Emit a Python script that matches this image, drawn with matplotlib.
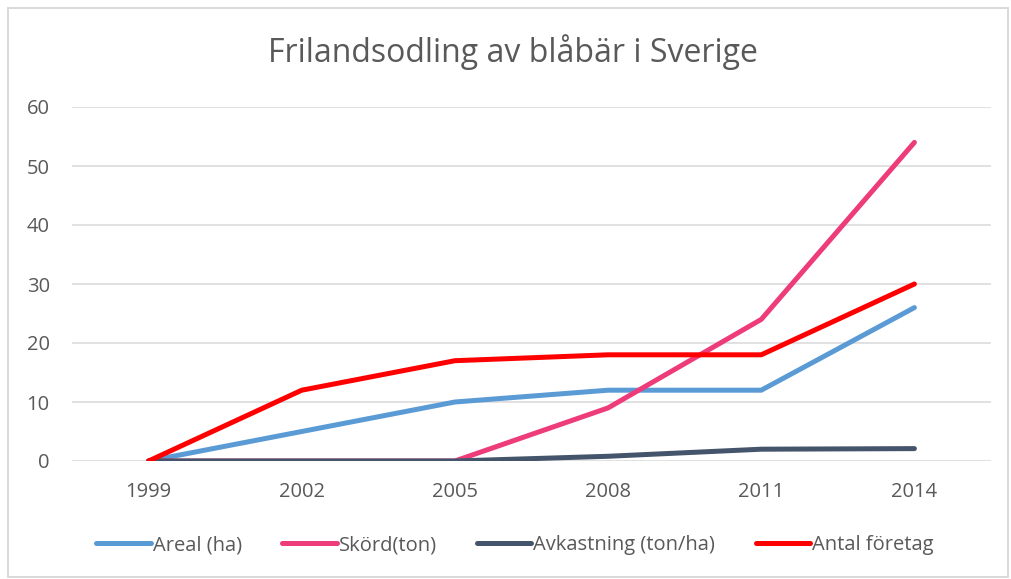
import matplotlib
matplotlib.use("Agg")
import matplotlib.pyplot as plt
import matplotlib.patches as mpatches

# Data
years = ["1999", "2002", "2005", "2008", "2011", "2014"]
areal = [0, 5, 10, 12, 12, 26]
skord = [0, 0, 0, 9, 24, 54]
avkastning = [0, 0, 0, 0.8, 2.0, 2.1]
antal_foretag = [0, 12, 17, 18, 18, 30]

series_labels = ["Areal (ha)", "Skörd(ton)", "Avkastning (ton/ha)", "Antal företag"]
series_colors = ["#5B9BD5", "#EE3B7A", "#44546A", "#FF0000"]

TEXT = "#595959"
GRID = "#D9D9D9"
FONT = ["Open Sans", "DejaVu Sans"]

plt.rcParams["font.family"] = FONT

fig = plt.figure(figsize=(10.11, 5.79), dpi=100)
fig.patch.set_facecolor("white")
# light frame around the whole chart
fig.add_artist(mpatches.Rectangle((8 / 1011, 2 / 579), 1000 / 1011, 569 / 579,
                                  transform=fig.transFigure, facecolor="none",
                                  edgecolor=GRID, linewidth=1.4))

ax = fig.add_axes([72 / 1011, 1 - 461 / 579, 919 / 1011, 354 / 579])
x = list(range(len(years)))
for vals, lab, col in zip([areal, skord, avkastning, antal_foretag], series_labels, series_colors):
    ax.plot(x, vals, color=col, linewidth=3.6, label=lab,
            solid_capstyle="round", solid_joinstyle="round")

ax.set_xlim(-0.5, len(years) - 0.5)
ax.set_ylim(0, 60)
ax.set_yticks(range(0, 61, 10))
ax.set_xticks(x)
ax.set_xticklabels(years)
ax.tick_params(length=0, colors=TEXT, labelsize=14.5)
ax.tick_params(axis="x", pad=15)
ax.tick_params(axis="y", pad=16)
ax.grid(axis="y", color=GRID, linewidth=1.1)
ax.set_axisbelow(True)
for s in ax.spines.values():
    s.set_visible(False)

fig.text(513 / 1011, 1 - 52 / 579, "Frilandsodling av blåbär i Sverige", ha="center", va="center",
         fontsize=23, color=TEXT)

fig.legend(loc="center", bbox_to_anchor=(515 / 1011, 1 - 545 / 579), ncol=4, frameon=False,
           fontsize=14.5, handlelength=2.7, handletextpad=0.1, columnspacing=2.0,
           labelcolor=TEXT)

fig.savefig("out.png", dpi=100, facecolor="white")
